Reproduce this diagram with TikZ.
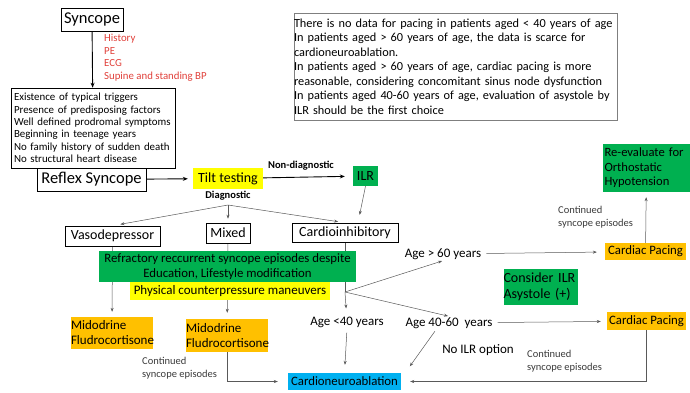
\documentclass[tikz,border=0pt]{standalone}
\usepackage{fontspec}
\setmainfont{Carlito}
\usepackage{xcolor}
\definecolor{GuideGreen} {HTML}{00B050}
\definecolor{GuideOrange}{HTML}{FFC000}
\definecolor{GuideYellow}{HTML}{FFFF00}
\definecolor{GuideBlue}  {HTML}{00B0F0}
\definecolor{GuideRed}   {HTML}{E0403A}
\definecolor{ArrowGray}  {HTML}{595959}
\definecolor{NoteGray}   {HTML}{7F7F7F}
\definecolor{TextGray}   {HTML}{3A3A3A}
\usetikzlibrary{arrows.meta,positioning,backgrounds}
\tikzset{
  plainbox/.style={rectangle,draw=black,fill=white,line width=0.6pt,
    inner sep=0pt,align=center},
  greenbox/.style={rectangle,fill=GuideGreen,inner sep=0pt,align=center},
  orangebox/.style={rectangle,fill=GuideOrange,inner sep=0pt,align=center},
  yellowbox/.style={rectangle,fill=GuideYellow,inner sep=0pt,align=center},
  bluebox/.style={rectangle,fill=GuideBlue,inner sep=0pt,align=center},
  bigfont/.style={font=\fontsize{16.5}{19}\selectfont},
  midfont/.style={font=\fontsize{14}{16.5}\selectfont},
  boxfont/.style={font=\fontsize{12.8}{14.5}\selectfont},
  agelabel/.style={font=\fontsize{13}{15}\selectfont,inner sep=1pt},
  smallnote/.style={font=\fontsize{10.5}{12.8}\selectfont,align=left,
    text=TextGray,inner sep=0pt,anchor=north west},
  edgelabel/.style={font=\fontsize{10.5}{12}\selectfont\bfseries,inner sep=1pt},
  mainedge/.style={-{Stealth[length=5pt,width=4pt]},line width=0.9pt,black},
  flowedge/.style={-{Stealth[length=4pt,width=3pt]},line width=0.5pt,ArrowGray},
  flowline/.style={line width=0.5pt,ArrowGray},
}

\begin{document}
\begin{tikzpicture}[x=1pt,y=-1pt]
  \useasboundingbox (0,0) rectangle (690,392);

  % first steps
  \node[plainbox,bigfont,minimum width=62pt,minimum height=23pt]
    (syncope) at (92,19.5) {Syncope};
  \node[anchor=north west,align=left,inner sep=0pt,text=GuideRed,
    font=\fontsize{10.8}{12.6}\selectfont] (workup) at (104,34)
    {History\\PE\\ECG\\Supine and standing BP};
  \node[plainbox,align=left,inner xsep=3pt,text width=158pt,minimum height=80pt,
    font=\fontsize{10.9}{12.4}\selectfont] (criteria) at (93,128)
    {Existence of typical triggers\\
     Presence of predisposing factors\\
     Well defined prodromal symptoms\\
     Beginning in teenage years\\
     No family history of sudden death\\
     No structural heart disease};
  \node[plainbox,bigfont,minimum width=109pt,minimum height=23pt]
    (reflex) at (91.5,179.5) {Reflex Syncope};

  % tilt testing and ILR
  \node[yellowbox,midfont,minimum width=70pt,minimum height=21pt]
    (tilt) at (228,178.5) {Tilt testing};
  \node[greenbox,midfont,minimum width=25pt,minimum height=20pt]
    (ilr) at (365.5,176) {ILR};
  \node[edgelabel] (nondiag) at (301,166) {Non-diagnostic};
  \node[edgelabel] (diag) at (228,195.5) {Diagnostic};
  \coordinate (split) at (228,205);

  % tilt responses
  \node[plainbox,midfont,minimum width=95pt,minimum height=20pt]
    (vaso) at (112.5,236) {Vasodepressor};
  \node[plainbox,midfont,minimum width=44pt,minimum height=20pt]
    (mixed) at (228,233) {Mixed};
  \node[plainbox,midfont,minimum width=106pt,minimum height=19pt]
    (cardio) at (345,232.5) {Cardioinhibitory};
  \node[greenbox,boxfont,minimum width=257pt,minimum height=31pt]
    (refract) at (227.5,266.5)
    {Refractory reccurrent syncope episodes despite\\
     Education, Lifestyle modification};
  \node[yellowbox,font=\fontsize{13}{15}\selectfont,minimum width=200pt,
    minimum height=18pt] (counter) at (230,291)
    {Physical counterpressure maneuvers};

  % drugs
  \node[orangebox,font=\fontsize{13}{15}\selectfont,align=left,
    text width=82pt,minimum height=32pt]
    (mido1) at (112,333) {Midodrine\\Fludrocortisone};
  \node[orangebox,font=\fontsize{13}{15}\selectfont,align=left,
    text width=82pt,minimum height=33pt]
    (mido2) at (227,335.5) {Midodrine\\Fludrocortisone};
  \node[smallnote] (contA) at (142,357) {Continued\\syncope episodes};

  % age groups
  \coordinate (agesplit) at (345,292);
  \node[agelabel] (age60) at (443,254) {Age > 60 years};
  \node[agelabel] (age40) at (347,322) {Age <40 years};
  \node[agelabel] (age4060) at (449,323) {Age 40-60\ \ years};
  \node[agelabel] (noilr) at (478,350) {No ILR option};
  \node[greenbox,midfont,align=left,text width=74pt,minimum height=36pt]
    (askilr) at (540.5,287) {Consider ILR\\Asystole (+)};

  % right column
  \node[greenbox,font=\fontsize{12.6}{14.5}\selectfont,align=left,
    inner xsep=1.5pt,text width=84pt,minimum height=48pt]
    (reeval) at (646.5,168)
    {Re-evaluate for\\Orthostatic\\Hypotension};
  \node[orangebox,boxfont,minimum width=81pt,minimum height=17pt]
    (pace1) at (645.5,251.5) {Cardiac Pacing};
  \node[orangebox,boxfont,minimum width=79pt,minimum height=18pt]
    (pace2) at (646.5,321) {Cardiac Pacing};
  \node[smallnote] (contC) at (558,206) {Continued\\syncope episodes};
  \node[smallnote] (contB) at (527,350) {Continued\\syncope episodes};
  \node[bluebox,boxfont,minimum width=113pt,minimum height=17pt]
    (ablation) at (344.5,381.5) {Cardioneuroablation};

  % note on age
  \node[plainbox,draw=NoteGray,align=left,text width=323pt,minimum height=107pt,
    font=\fontsize{12.3}{14.5}\selectfont] (agenote) at (455.5,66.5)
    {There is no data for pacing in patients aged < 40 years of age\\
     In patients aged > 60 years of age, the data is scarce for\\
     cardioneuroablation.\\
     In patients aged > 60 years of age, cardiac pacing is more\\
     reasonable, considering concomitant sinus node dysfunction\\
     In patients aged 40-60 years of age, evaluation of asystole by\\
     ILR should be the first choice};

  \begin{scope}[on background layer]
    \draw[mainedge] (syncope) -- (criteria);
    \draw[mainedge,shorten >=5pt] (reflex) -- (tilt);
    \draw[mainedge,shorten >=8pt] (tilt) -- (ilr);
    \draw[flowedge,shorten >=8pt] (split) -- (vaso.north);
    \draw[flowedge,shorten >=4pt] (split) -- (mixed.north);
    \draw[flowedge,shorten >=7pt] (split) -- (cardio.north);
    \draw[flowedge,shorten >=8pt] (ilr.south) -- ([xshift=13pt]cardio.north);
    \draw[flowedge,shorten >=5pt] (vaso) -- (mido1);
    \draw[flowedge,shorten >=6pt] (mixed) -- (mido2);
    \draw[flowline] (cardio.south) -- (agesplit);
    \draw[flowedge,shorten >=7pt] (agesplit) -- (age40);
    \draw[flowedge,shorten >=1pt] (agesplit) -- (age60.south);
    \draw[flowedge,shorten >=1pt] (agesplit) -- (age4060.north);
    \draw[flowedge,shorten <=4pt,shorten >=8pt] (age60) -- (pace1);
    \draw[flowedge,shorten >=5pt] (pace1) -- (reeval);
    \draw[flowedge,shorten <=4pt,shorten >=6pt] (age4060) -- (pace2);
    \draw[flowedge,shorten <=2pt,shorten >=8pt] ([xshift=-13pt]age4060.south)
      -- ([xshift=4pt]ablation.north east);
    \draw[flowedge,shorten <=4pt,shorten >=8pt] (age40.south) -- (ablation.north);
    \draw[flowedge,shorten >=10pt] (mido2.south) |- (ablation.west);
    \draw[flowedge,shorten >=9pt] (pace2.south) |- (ablation.east);
  \end{scope}
\end{tikzpicture}
\end{document}
